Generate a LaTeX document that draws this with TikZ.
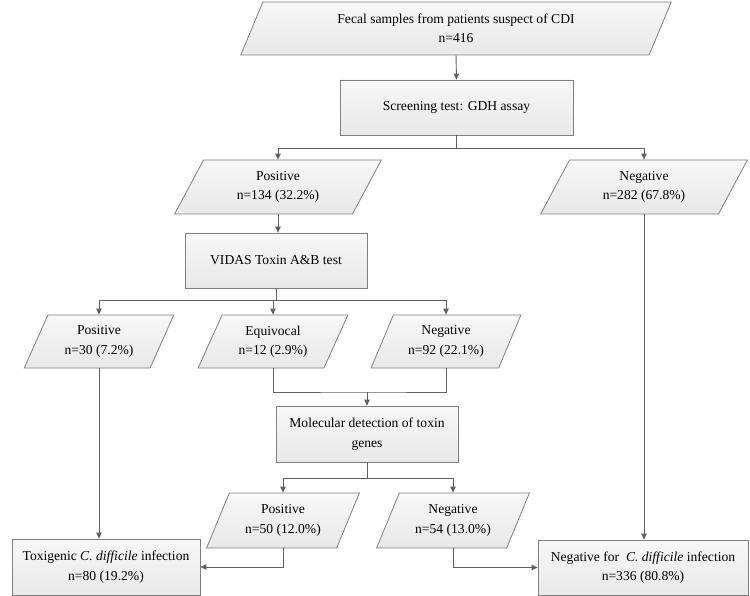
\documentclass[tikz,border=0pt]{standalone}
\usepackage{fontspec}
\setmainfont{Liberation Serif}
\usetikzlibrary{shapes.geometric,arrows.meta}
\begin{document}
\begin{tikzpicture}[x=1pt,y=-1pt,
  every node/.style={font=\fontsize{13.6}{19.5}\selectfont, align=center, inner sep=0pt},
  boxbase/.style={draw=black!50, line width=0.8pt, top color=black!3, bottom color=black!9},
  rbox/.style={boxbase, rectangle, minimum width=#1, minimum height=55pt},
  pbox/.style={boxbase, trapezium, trapezium left angle=63, trapezium right angle=117,
               trapezium stretches=true, minimum width=#1, minimum height=54pt},
  conn/.style={draw=black!62, line width=0.9pt},
  arr/.style={conn, -{Triangle[width=5.5pt,length=6pt]}}]
\useasboundingbox (0,0) rectangle (750,596);

% nodes
\node[pbox=432, trapezium left angle=65, trapezium right angle=115, minimum height=53pt] (fecal) at (456,28.5)
  {Fecal samples from patients suspect of CDI\\n=416};
\node[rbox=233] (screen) at (456.5,107.5) {Screening test: GDH assay};
\node[pbox=207] (pos1) at (278,187) {Positive\\n=134 (32.2\%)};
\node[pbox=207] (neg1) at (644,187) {Negative\\n=282 (67.8\%)};
\node[rbox=182] (vidas) at (276,260.5) {VIDAS Toxin A\&B test};
\node[pbox=150, minimum height=53pt] (pos2) at (99,341.5) {Positive\\n=30 (7.2\%)};
\node[pbox=150, minimum height=53pt] (equiv) at (273,341.5) {Equivocal\\n=12 (2.9\%)};
\node[pbox=150, minimum height=53pt] (neg2) at (446,341.5) {Negative\\n=92 (22.1\%)};
\node[rbox=182, minimum height=56pt] (mol) at (367,434) {Molecular detection of toxin\\genes};
\node[pbox=153, minimum height=55pt] (pos3) at (283,520.5) {Positive\\n=50 (12.0\%)};
\node[pbox=153, minimum height=55pt] (neg3) at (453,520.5) {Negative\\n=54 (13.0\%)};
\node[rbox=188, minimum height=56pt] (tox) at (106,567) {Toxigenic \textit{C. difficile} infection\\n=80 (19.2\%)};
\node[rbox=210] (negf) at (643,567.5) {Negative for~~\textit{C. difficile} infection\\n=336 (80.8\%)};

% junction coordinates
\coordinate (s1) at (456.5,148);
\coordinate (v1) at (276,300);
\coordinate (m1) at (367,392);
\coordinate (m2) at (367,478);

% connectors
\draw[arr] (fecal.south) -- (screen.north);
\draw[conn] (screen.south) -- (s1);
\draw[arr] (s1) -| (pos1.north);
\draw[arr] (s1) -| (neg1.north);
\draw[arr] (pos1.south) -- (pos1.south |- vidas.north);
\draw[conn] (vidas.south) -- (v1);
\draw[arr] (v1) -| (pos2.north);
\draw[arr] (v1) -| (equiv.north);
\draw[arr] (v1) -| (neg2.north);
\draw[conn] (equiv.south) |- (m1) -| (neg2.south);
\draw[arr] (m1) -- (mol.north);
\draw[conn] (mol.south) -- (m2);
\draw[arr] (m2) -| (pos3.north);
\draw[arr] (m2) -| (neg3.north);
\draw[arr] (pos2.south) -- (pos2.south |- tox.north);
\draw[arr] (neg1.south) -- (neg1.south |- negf.north);
\draw[arr] (pos3.south) |- (tox.east);
\draw[arr] (neg3.south) |- (negf.west);
\end{tikzpicture}
\end{document}
